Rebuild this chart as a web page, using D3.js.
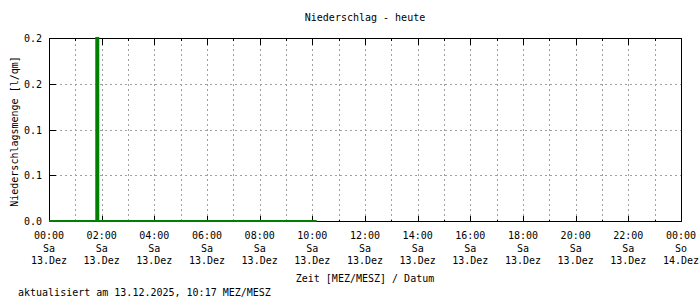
<!DOCTYPE html>
<html>
<head>
<meta charset="utf-8">
<script src="https://cdn.jsdelivr.net/npm/d3@7"></script>
<style>
  body { margin: 0; background: #fff; }
  svg text { font-family: "DejaVu Sans Mono", monospace; font-size: 10px; fill: #000; }
</style>
</head>
<body>
<div id="chart"></div>
<script>
// 10-min Niederschlag, 13.12.2025 (l/qm)
const rainTimes = [
  "00:00","00:10","00:20","00:30","00:40","00:50",
  "01:00","01:10","01:20","01:30","01:40","01:50",
  "02:00","02:10","02:20","02:30","02:40","02:50",
  "03:00","03:10","03:20","03:30","03:40","03:50",
  "04:00","04:10","04:20","04:30","04:40","04:50",
  "05:00","05:10","05:20","05:30","05:40","05:50",
  "06:00","06:10","06:20","06:30","06:40","06:50",
  "07:00","07:10","07:20","07:30","07:40","07:50",
  "08:00","08:10","08:20","08:30","08:40","08:50",
  "09:00","09:10","09:20","09:30","09:40","09:50",
  "10:00","10:10"
];
const rainValues = [
  0,0,0,0,0,0,
  0,0,0,0,0,0.2,
  0,0,0,0,0,0,
  0,0,0,0,0,0,
  0,0,0,0,0,0,
  0,0,0,0,0,0,
  0,0,0,0,0,0,
  0,0,0,0,0,0,
  0,0,0,0,0,0,
  0,0,0,0,0,0,
  0,0
];

const xTickTimes = ["00:00","02:00","04:00","06:00","08:00","10:00","12:00",
                    "14:00","16:00","18:00","20:00","22:00","00:00"];
const xTickDays = ["Sa","Sa","Sa","Sa","Sa","Sa","Sa","Sa","Sa","Sa","Sa","Sa","So"];
const xTickDates = ["13.Dez","13.Dez","13.Dez","13.Dez","13.Dez","13.Dez","13.Dez",
                    "13.Dez","13.Dez","13.Dez","13.Dez","13.Dez","14.Dez"];
const yTicks = [0, 0.05, 0.1, 0.15, 0.2];
const yTickLabels = ["0.0", "0.1", "0.1", "0.2", "0.2"];

const title = "Niederschlag - heute";
const yTitle = "Niederschlagsmenge [l/qm]";
const xTitle = "Zeit [MEZ/MESZ] / Datum";
const footer = "aktualisiert am 13.12.2025, 10:17 MEZ/MESZ";

const W = 700, H = 300;
const pLeft = 49, pRight = 681, pTop = 38, pBottom = 221;
const green = "#008000";

const dayStart = new Date(2025, 11, 13, 0, 0);
const dayEnd = new Date(2025, 11, 14, 0, 0);
const parseT = t => {
  const [h, m] = t.split(":").map(Number);
  return new Date(2025, 11, 13, h, m);
};
const data = rainTimes.map((t, i) => ({ t: parseT(t), v: rainValues[i] }));

const x = d3.scaleTime().domain([dayStart, dayEnd]).range([pLeft, pRight]);
const y = d3.scaleLinear().domain([0, 0.2]).range([pBottom, pTop]);

const svg = d3.select('#chart').append('svg')
  .attr('width', W).attr('height', H);

const hourTicks = d3.timeHour.every(1).range(dayStart, d3.timeHour.offset(dayEnd, 1));
const majorTicks = d3.timeHour.every(2).range(dayStart, d3.timeHour.offset(dayEnd, 1));
const innerHours = hourTicks.filter(d => d > dayStart && d < dayEnd);

// grid
const crisp = svg.append('g').attr('transform', 'translate(0.5,0.5)');
const grid = crisp.append('g')
  .attr('stroke', '#a0a0a0').attr('stroke-dasharray', '2,3').attr('stroke-width', 1)
  .attr('shape-rendering', 'crispEdges');
grid.selectAll('.gx')
  .data(innerHours)
  .enter().append('line')
  .attr('x1', d => Math.round(x(d))).attr('x2', d => Math.round(x(d)))
  .attr('y1', pTop).attr('y2', pBottom);
grid.selectAll('.gy')
  .data(yTicks.filter(v => v > 0 && v < 0.2))
  .enter().append('line')
  .attr('x1', pLeft).attr('x2', pRight)
  .attr('y1', d => Math.round(y(d))).attr('y2', d => Math.round(y(d)));

// border + ticks
const axes = crisp.append('g').attr('stroke', '#000').attr('shape-rendering', 'crispEdges');
axes.append('rect')
  .attr('x', pLeft).attr('y', pTop)
  .attr('width', pRight - pLeft).attr('height', pBottom - pTop)
  .attr('fill', 'none');
const isMajor = d => d.getHours() % 2 === 0;
axes.selectAll('.tb')
  .data(innerHours)
  .enter().append('line')
  .attr('x1', d => Math.round(x(d))).attr('x2', d => Math.round(x(d)))
  .attr('y1', pBottom).attr('y2', d => pBottom - (isMajor(d) ? 6 : 2));
axes.selectAll('.tt')
  .data(innerHours)
  .enter().append('line')
  .attr('x1', d => Math.round(x(d))).attr('x2', d => Math.round(x(d)))
  .attr('y1', pTop).attr('y2', d => pTop + (isMajor(d) ? 6 : 2));
axes.selectAll('.ty')
  .data(yTicks)
  .enter().append('line')
  .attr('x1', pLeft).attr('x2', pLeft + 6)
  .attr('y1', d => Math.round(y(d))).attr('y2', d => Math.round(y(d)));

// data: baseline over measured period + impulses
svg.append('path')
  .datum(data)
  .attr('fill', 'none')
  .attr('stroke', green)
  .attr('stroke-width', 2)
  .attr('d', d3.line().x(d => x(d.t)).y(y(0)));
svg.selectAll('.imp')
  .data(data.filter(d => d.v > 0))
  .enter().append('line')
  .attr('stroke', green)
  .attr('stroke-width', 4)
  .attr('x1', d => x(d.t)).attr('x2', d => x(d.t))
  .attr('y1', y(0)).attr('y2', d => y(d.v) - 1);

// y labels
svg.selectAll('.yl')
  .data(yTicks)
  .enter().append('text')
  .attr('x', 42).attr('y', d => y(d) + 4)
  .attr('text-anchor', 'end')
  .text((d, i) => yTickLabels[i]);

// x labels
const xl = svg.selectAll('.xl')
  .data(majorTicks)
  .enter().append('g')
  .attr('transform', d => `translate(${x(d)},0)`);
xl.append('text').attr('y', 239).attr('text-anchor', 'middle').text((d, i) => xTickTimes[i]);
xl.append('text').attr('y', 252).attr('text-anchor', 'middle').text((d, i) => xTickDays[i]);
xl.append('text').attr('y', 264).attr('text-anchor', 'middle').text((d, i) => xTickDates[i]);

// titles
svg.append('text').attr('x', 365).attr('y', 21).attr('text-anchor', 'middle').text(title);
svg.append('text').attr('x', 365).attr('y', 282).attr('text-anchor', 'middle').text(xTitle);
svg.append('text').attr('x', 18).attr('y', 296).text(footer);
svg.append('text')
  .attr('transform', `translate(18,${(pTop + pBottom) / 2 + 2}) rotate(-90)`)
  .attr('text-anchor', 'middle')
  .text(yTitle);
</script>
</body>
</html>
